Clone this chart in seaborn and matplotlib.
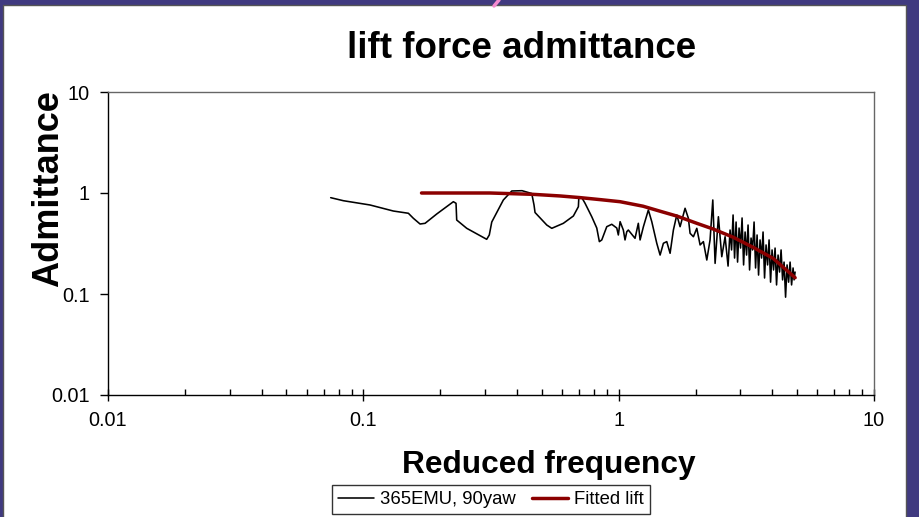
import numpy as np
import pandas as pd
import matplotlib
matplotlib.use("Agg")
import matplotlib.pyplot as plt
import matplotlib.ticker as mticker
from matplotlib.lines import Line2D
from matplotlib.patches import Rectangle
import seaborn as sns

# ---------------- data ----------------
meas_label = "365EMU, 90yaw"
fit_label = "Fitted lift"

meas_freq = [
    0.0745, 0.0835, 0.1062, 0.1311, 0.1501, 0.1570, 0.1668, 0.1745, 0.1939, 0.2252,
    0.2307, 0.2321, 0.2541, 0.3042, 0.3114, 0.3184, 0.3535, 0.3814, 0.4184, 0.4566,
    0.4661, 0.4704, 0.5229, 0.547, 0.6072, 0.6647, 0.6954, 0.6985, 0.7187, 0.7385,
    0.7846, 0.8208, 0.8402, 0.8587, 0.8982, 0.9397, 0.983, 0.997, 1.013, 1.043,
    1.059, 1.076, 1.091, 1.159, 1.194, 1.213, 1.250, 1.307, 1.348, 1.410,
    1.453, 1.497, 1.543, 1.590, 1.638, 1.689, 1.740, 1.820, 1.875, 1.904,
    1.962, 2.023, 2.084, 2.147, 2.214, 2.280, 2.337, 2.386, 2.458, 2.534,
    2.611, 2.682, 2.731, 2.768, 2.806, 2.844, 2.883, 2.922, 2.962, 3.002,
    3.043, 3.085, 3.127, 3.169, 3.212, 3.256, 3.300, 3.345, 3.391, 3.437,
    3.484, 3.531, 3.579, 3.628, 3.677, 3.727, 3.778, 3.830, 3.882, 3.935,
    3.988, 4.042, 4.098, 4.153, 4.210, 4.267, 4.326, 4.385, 4.444, 4.505,
    4.566, 4.629, 4.692, 4.756, 4.820, 4.864, 4.908,
]
meas_adm = [
    0.899, 0.839, 0.761, 0.663, 0.630, 0.562, 0.493, 0.501, 0.620, 0.820,
    0.791, 0.540, 0.447, 0.348, 0.384, 0.516, 0.853, 1.047, 1.054, 0.989,
    0.761, 0.641, 0.482, 0.447, 0.501, 0.592, 0.732, 0.919, 0.892, 0.791,
    0.582, 0.450, 0.330, 0.343, 0.464, 0.490, 0.450, 0.384, 0.520, 0.430,
    0.343, 0.414, 0.430, 0.356, 0.501, 0.343, 0.464, 0.679, 0.520, 0.318,
    0.243, 0.318, 0.330, 0.253, 0.430, 0.606, 0.464, 0.706, 0.562, 0.399,
    0.369, 0.447, 0.306, 0.330, 0.217, 0.343, 0.853, 0.201, 0.582, 0.234,
    0.369, 0.189, 0.430, 0.273, 0.606, 0.227, 0.516, 0.207, 0.450, 0.285,
    0.566, 0.194, 0.411, 0.243, 0.482, 0.173, 0.358, 0.273, 0.516, 0.181,
    0.384, 0.154, 0.343, 0.227, 0.411, 0.144, 0.306, 0.194, 0.343, 0.131,
    0.273, 0.173, 0.285, 0.123, 0.243, 0.165, 0.273, 0.138, 0.207, 0.093,
    0.194, 0.131, 0.207, 0.123, 0.181, 0.138, 0.165,
]

fit_freq = [0.169, 0.313, 0.462, 0.589, 0.706, 0.846, 1.013, 1.246, 1.453,
            1.694, 2.028, 2.344, 2.806, 3.36, 4.03, 4.91]
fit_adm = [1.00, 1.00, 0.97, 0.935, 0.90, 0.86, 0.82, 0.74, 0.66,
           0.59, 0.50, 0.44, 0.365, 0.29, 0.225, 0.145]

x_ticks = [0.01, 0.1, 1, 10]
x_tick_labels = ["0.01", "0.1", "1", "10"]
y_ticks = [0.01, 0.1, 1, 10]
y_tick_labels = ["0.01", "0.1", "1", "10"]

title_text = "lift force admittance"
xlabel_text = "Reduced frequency"
ylabel_text = "Admittance"

# ---------------- figure ----------------
sns.set_style("white")
plt.rcParams["font.family"] = ["Liberation Sans", "DejaVu Sans"]
plt.rcParams["text.color"] = "black"
plt.rcParams["axes.labelcolor"] = "black"
plt.rcParams["xtick.color"] = "black"
plt.rcParams["ytick.color"] = "black"

W, H = 920, 517
fig = plt.figure(figsize=(W / 100, H / 100), dpi=100)
fig.patch.set_facecolor("#403a80")

def fx(px):
    return px / W

def fy(py):
    return 1 - py / H

# white panel
fig.patches.append(Rectangle((fx(3), fy(518)), fx(906) - fx(3), fy(5) - fy(518),
                             transform=fig.transFigure, facecolor="white",
                             edgecolor="#555555", linewidth=1.0, zorder=-5))
# small pink mark at top
fig.lines.append(Line2D([fx(494), fx(499)], [fy(6), fy(0)], transform=fig.transFigure,
                        color="#f48ad0", linewidth=2.5, zorder=-4))

ax = fig.add_axes([fx(108), fy(395), fx(874) - fx(108), fy(92) - fy(395)])
ax.set_zorder(2)
ax.set_facecolor("white")

meas_df = pd.DataFrame({"freq": meas_freq, "adm": meas_adm})
fit_df = pd.DataFrame({"freq": fit_freq, "adm": fit_adm})

sns.lineplot(data=meas_df, x="freq", y="adm", ax=ax, sort=False, estimator=None,
             color="black", linewidth=1.15, label=meas_label)
sns.lineplot(data=fit_df, x="freq", y="adm", ax=ax, sort=False, estimator=None,
             color="#8b0000", linewidth=2.5, label=fit_label)

ax.set_xscale("log")
ax.set_yscale("log")
ax.set_xlim(0.01, 10)
ax.set_ylim(0.01, 10)

ax.set_xticks(x_ticks)
ax.set_xticklabels(x_tick_labels)
ax.set_yticks(y_ticks)
ax.set_yticklabels(y_tick_labels)
ax.xaxis.set_minor_locator(mticker.LogLocator(base=10, subs=np.arange(2, 10)))
ax.xaxis.set_minor_formatter(mticker.NullFormatter())
ax.yaxis.set_minor_locator(mticker.NullLocator())

ax.tick_params(axis="x", which="major", direction="inout", length=9, width=1,
               color="black", labelcolor="black", labelsize=14.3, pad=7, bottom=True)
ax.tick_params(axis="x", which="minor", direction="in", length=4, width=1,
               color="black", bottom=True)
ax.tick_params(axis="y", which="major", direction="out", length=6, width=1,
               color="black", labelcolor="black", labelsize=14.3, pad=7, left=True)

for s in ax.spines.values():
    s.set_visible(True)
    s.set_color("black")
    s.set_linewidth(1.0)
ax.spines["right"].set_color("#666666")
ax.spines["top"].set_color("#666666")

ax.set_xlabel("")
ax.set_ylabel("")
ax.get_legend().remove()

fig.text(fx(522), fy(58), title_text, ha="center", va="baseline",
         fontsize=26.5, fontweight="bold", color="black")
fig.text(fx(549), fy(473), xlabel_text, ha="center", va="baseline",
         fontsize=22.8, fontweight="bold", color="black")
fig.text(fx(48.5), fy(189), ylabel_text, ha="center", va="center", rotation=90,
         fontsize=26, fontweight="bold", color="black")

handles, labels = ax.get_legend_handles_labels()
leg = fig.legend(handles, labels, loc="center", ncol=2,
                 bbox_to_anchor=(fx(491), fy(499.5)), fontsize=13.3,
                 frameon=True, fancybox=False, edgecolor="black",
                 handlelength=1.95, handletextpad=0.3, columnspacing=0.9,
                 borderpad=0.35, borderaxespad=0)
leg.get_frame().set_linewidth(1.0)
for t in leg.get_texts():
    t.set_color("black")

fig.savefig("out.png", dpi=100, facecolor=fig.get_facecolor())
